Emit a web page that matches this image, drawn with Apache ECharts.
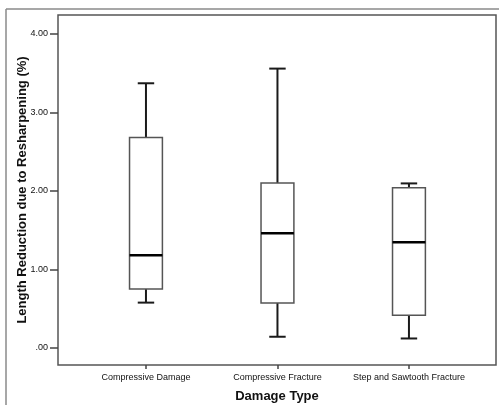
<!DOCTYPE html>
<html>
<head>
<meta charset="utf-8">
<script src="https://cdn.jsdelivr.net/npm/echarts@6/dist/echarts.min.js"></script>
<style>html,body{margin:0;padding:0;background:#fff;}#c{width:499px;height:405px;}</style>
</head>
<body>
<div id="c"></div>
<script>
const categories = ['Compressive Damage', 'Compressive Fracture', 'Step and Sawtooth Fracture'];
const whiskerLow  = [0.575, 0.14, 0.118];
const q1          = [0.75, 0.571, 0.415];
const median      = [1.18, 1.459, 1.345];
const q3          = [2.68, 2.098, 2.04];
const whiskerHigh = [3.37, 3.557, 2.094];
const yTicks = [0, 1, 2, 3, 4];

const boxData = categories.map((c, i) => [i, whiskerLow[i], q1[i], median[i], q3[i], whiskerHigh[i]]);

const chart = echarts.init(document.getElementById('c'), null, {renderer: 'canvas'});
const FONT = '"Liberation Sans", Arial, sans-serif';

function renderBox(params, api) {
  const x = api.value(0);
  const lo = api.coord([x, api.value(1)]);
  const b1 = api.coord([x, api.value(2)]);
  const md = api.coord([x, api.value(3)]);
  const b3 = api.coord([x, api.value(4)]);
  const hi = api.coord([x, api.value(5)]);
  const band = api.size([1, 0])[0];
  const bw = band * 0.25;
  const cw = bw * 0.5;
  const cx = lo[0];
  const dark = '#1a1a1a';
  return {
    type: 'group',
    children: [
      {type: 'line', shape: {x1: cx, y1: hi[1], x2: cx, y2: b3[1]}, style: {stroke: dark, lineWidth: 2}},
      {type: 'line', shape: {x1: cx - cw/2, y1: hi[1], x2: cx + cw/2, y2: hi[1]}, style: {stroke: dark, lineWidth: 2}},
      {type: 'line', shape: {x1: cx, y1: lo[1], x2: cx, y2: b1[1]}, style: {stroke: dark, lineWidth: 2}},
      {type: 'line', shape: {x1: cx - cw/2, y1: lo[1], x2: cx + cw/2, y2: lo[1]}, style: {stroke: dark, lineWidth: 2}},
      {type: 'rect', shape: {x: cx - bw/2, y: b3[1], width: bw, height: b1[1] - b3[1]}, style: {fill: '#fff', stroke: '#555', lineWidth: 1.5}},
      {type: 'line', shape: {x1: cx - bw/2, y1: md[1], x2: cx + bw/2, y2: md[1]}, style: {stroke: '#000', lineWidth: 2.5}}
    ]
  };
}

chart.setOption({
  animation: false,
  backgroundColor: '#fff',
  graphic: [
    {type: 'line', shape: {x1: 6, y1: 9, x2: 499, y2: 9}, style: {stroke: '#8a8a8a', lineWidth: 1.5}},
    {type: 'line', shape: {x1: 6, y1: 9, x2: 6, y2: 405}, style: {stroke: '#8a8a8a', lineWidth: 1.5}}
  ],
  grid: {left: 58, right: 3, top: 15, bottom: 40, outerBoundsMode: 'none', containLabel: false, show: true, borderColor: '#555', borderWidth: 1.5, backgroundColor: '#fff'},
  xAxis: {
    type: 'value',
    min: -0.669, max: 2.662,
    name: 'Damage Type',
    nameLocation: 'middle',
    nameGap: 25,
    nameTextStyle: {fontFamily: FONT, fontWeight: 'bold', fontSize: 13, color: '#111'},
    splitLine: {show: false},
    axisLine: {show: false, onZero: false},
    axisTick: {show: true, length: 4, customValues: [0, 1, 2], lineStyle: {color: '#444', width: 1.5}},
    axisLabel: {customValues: [0, 1, 2], formatter: v => categories[Math.round(v)] || '', fontFamily: FONT, fontSize: 9, color: '#111', margin: 8}
  },
  yAxis: {
    type: 'value',
    min: -0.22, max: 4.24,
    name: 'Length Reduction due to Resharpening (%)',
    nameLocation: 'middle',
    nameGap: 29,
    nameMoveOverlap: false,
    nameTextStyle: {fontFamily: FONT, fontWeight: 'bold', fontSize: 13, color: '#111'},
    splitLine: {show: false},
    axisLine: {show: false, onZero: false},
    axisTick: {show: true, length: 8, customValues: yTicks, lineStyle: {color: '#444', width: 1.5}},
    axisLabel: {customValues: yTicks, formatter: v => v === 0 ? '.00' : v.toFixed(2), fontFamily: FONT, fontSize: 9, color: '#111', margin: 10}
  },
  series: [{
    type: 'custom',
    renderItem: renderBox,
    encode: {x: 0, y: [1, 2, 3, 4, 5]},
    data: boxData
  }]
});
</script>
</body>
</html>
